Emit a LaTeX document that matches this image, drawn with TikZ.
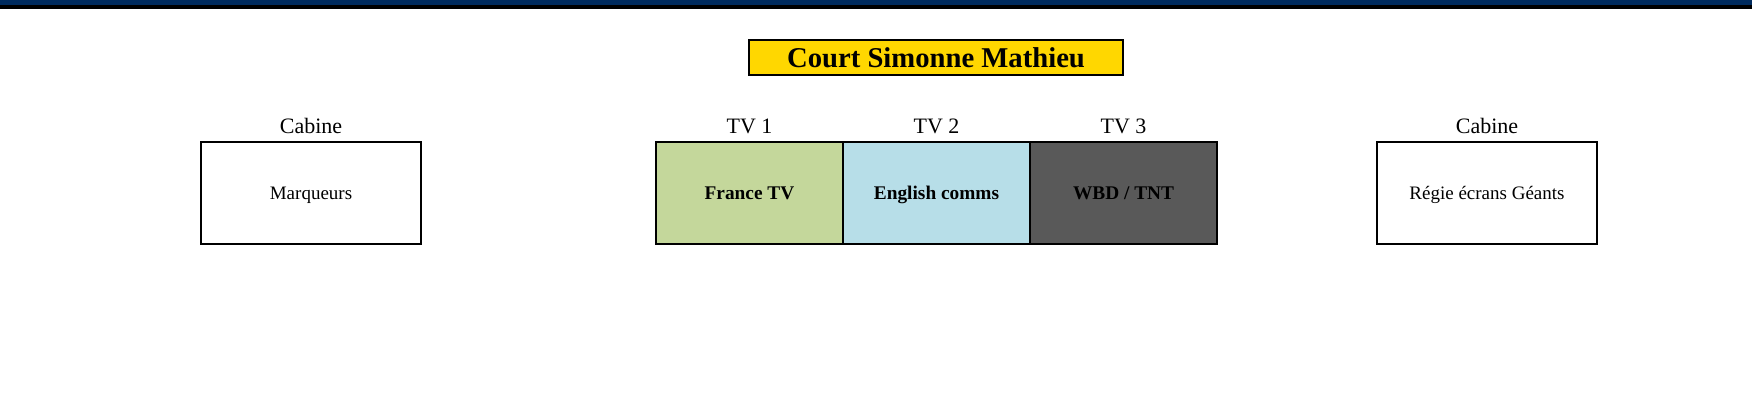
\documentclass[tikz,border=0pt]{standalone}
\usepackage{fontspec}
\setmainfont{Liberation Serif}
\usetikzlibrary{positioning}

\definecolor{navybar}{RGB}{0,43,94}
\definecolor{titlegold}{RGB}{255,215,0}
\definecolor{tvgreen}{RGB}{196,215,155}
\definecolor{tvblue}{RGB}{183,222,232}
\definecolor{tvgrey}{RGB}{89,89,89}

\begin{document}
\begin{tikzpicture}[
    x=0.75pt, y=-0.75pt,
    title/.style={rectangle, draw, line width=1.5pt, fill=titlegold, minimum width=280.5pt, minimum height=26.5pt, text centered, font=\fontsize{21.5}{24}\selectfont\bfseries},
    cabin/.style={rectangle, draw, line width=1.5pt, minimum width=165pt, minimum height=77pt, text height=9.5pt, text depth=0pt, text centered, font=\fontsize{14.25}{17}\selectfont},
    tvbox/.style={rectangle, draw, line width=1.5pt, outer sep=0pt, minimum width=140.25pt, minimum height=77pt, text height=9.5pt, text depth=0pt, text centered, font=\fontsize{14.5}{17}\selectfont\bfseries},
    boothname/.style={inner sep=0pt, font=\fontsize{16.5}{19}\selectfont}
]
    \useasboundingbox (0,0) rectangle (1752,412);
    % top bar
    \fill[navybar] (0,0) rectangle (1752,5);
    \fill[black] (0,5) rectangle (1752,9);

    \node[title] (court) at (936,57.5) {Court Simonne Mathieu};

    \node[tvbox, fill=tvblue] (tv2) at (936.5,193) {English comms};
    \node[tvbox, fill=tvgreen, left=0pt of tv2] (tv1) {France TV};
    \node[tvbox, fill=tvgrey, right=0pt of tv2] (tv3) {WBD / TNT};

    \node[cabin] (marqueurs) at (311,193) {Marqueurs};
    \node[cabin] (regie) at (1487,193) {Régie écrans Géants};

    \node[boothname, above=6pt of tv1] (tv1name) {TV 1};
    \node[boothname, above=6pt of tv2] (tv2name) {TV 2};
    \node[boothname, above=6pt of tv3] (tv3name) {TV 3};
    \node[boothname, above=5.25pt of marqueurs] (cabinleft) {Cabine};
    \node[boothname, above=5.25pt of regie] (cabinright) {Cabine};
\end{tikzpicture}
\end{document}
